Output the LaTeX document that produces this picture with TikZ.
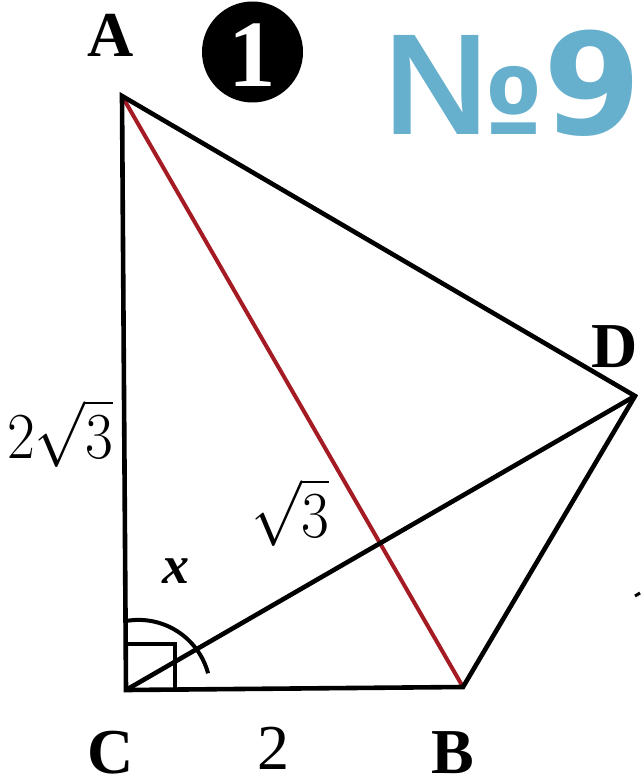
\documentclass[tikz,border=0pt]{standalone}
\usepackage{fontspec}
\setmainfont{Liberation Serif}
\newfontfamily\numfont{DejaVu Sans}
\newfontfamily\signfont{Liberation Sans}
\definecolor{skyblue}{RGB}{102,176,205}
\definecolor{darkred}{RGB}{165,27,35}
\newcommand{\bigmath}[1]{\scalebox{3.5}[3.8]{\fontsize{16}{16}\selectfont$#1$}}
\begin{document}
\begin{tikzpicture}[x=1pt,y=-1pt,
  edge/.style={line width=4.6pt,line join=miter,black},
  redge/.style={line width=4pt,darkred},
  lbl/.style={font=\fontsize{64}{64}\selectfont\bfseries,inner sep=0,anchor=base},
  num/.style={font=\fontsize{64}{64}\selectfont,inner sep=0,anchor=base},
  title/.style={inner sep=0,text=skyblue}]
\useasboundingbox (0,0) rectangle (640,778);
\coordinate (A) at (122,96);
\coordinate (B) at (463,687);
\coordinate (C) at (126,690);
\coordinate (D) at (635,396);
% right angle mark and arc
\draw[line width=4pt] (C) rectangle (175,644);
\draw[line width=4pt] (126,621) arc[start angle=-100,end angle=-15,radius=72];
% sides
\draw[redge] (A) -- (B);
\draw[edge] (C) -- (A) -- (D) -- (B) -- (C) -- cycle;
\draw[edge] (C) -- (D);
% labels
\node[lbl] (lA) at (110.5,57) {A};
\node[lbl] (lB) at (453,773) {B};
\node[lbl] (lC) at (111,773) {C};
\node[lbl] (lD) at (615,367) {D};
\node[num] (l2) at (273.5,769) {2};
\node[inner sep=0,anchor=base west] (l2r3) at (7,458) {\bigmath{2\sqrt{3}}};
\node[inner sep=0,anchor=base west] (lr3) at (251,537) {\bigmath{\sqrt{3}}};
\node[inner sep=0,anchor=base,font=\fontsize{54}{54}\selectfont\bfseries\itshape] (lx) at (176,583) {x};
% numbered badge
\node[circle,fill=black,minimum size=101pt,inner sep=0] (badge) at (252.5,52) {};
\node[inner sep=0,anchor=base,text=white,font=\fontsize{95}{95}\selectfont\bfseries] (one) at (252.5,87) {1};
% title
\node[title,anchor=base west,font=\fontsize{144}{144}\signfont\bfseries] (sign) at (384,135) {№};
\node[title,anchor=base west,font=\fontsize{141}{141}\numfont\bfseries] (nine) at (543,135) {9};
% cropped mark at right edge
\draw[line width=3pt] (635,596) -- (640,593);
\end{tikzpicture}
\end{document}
